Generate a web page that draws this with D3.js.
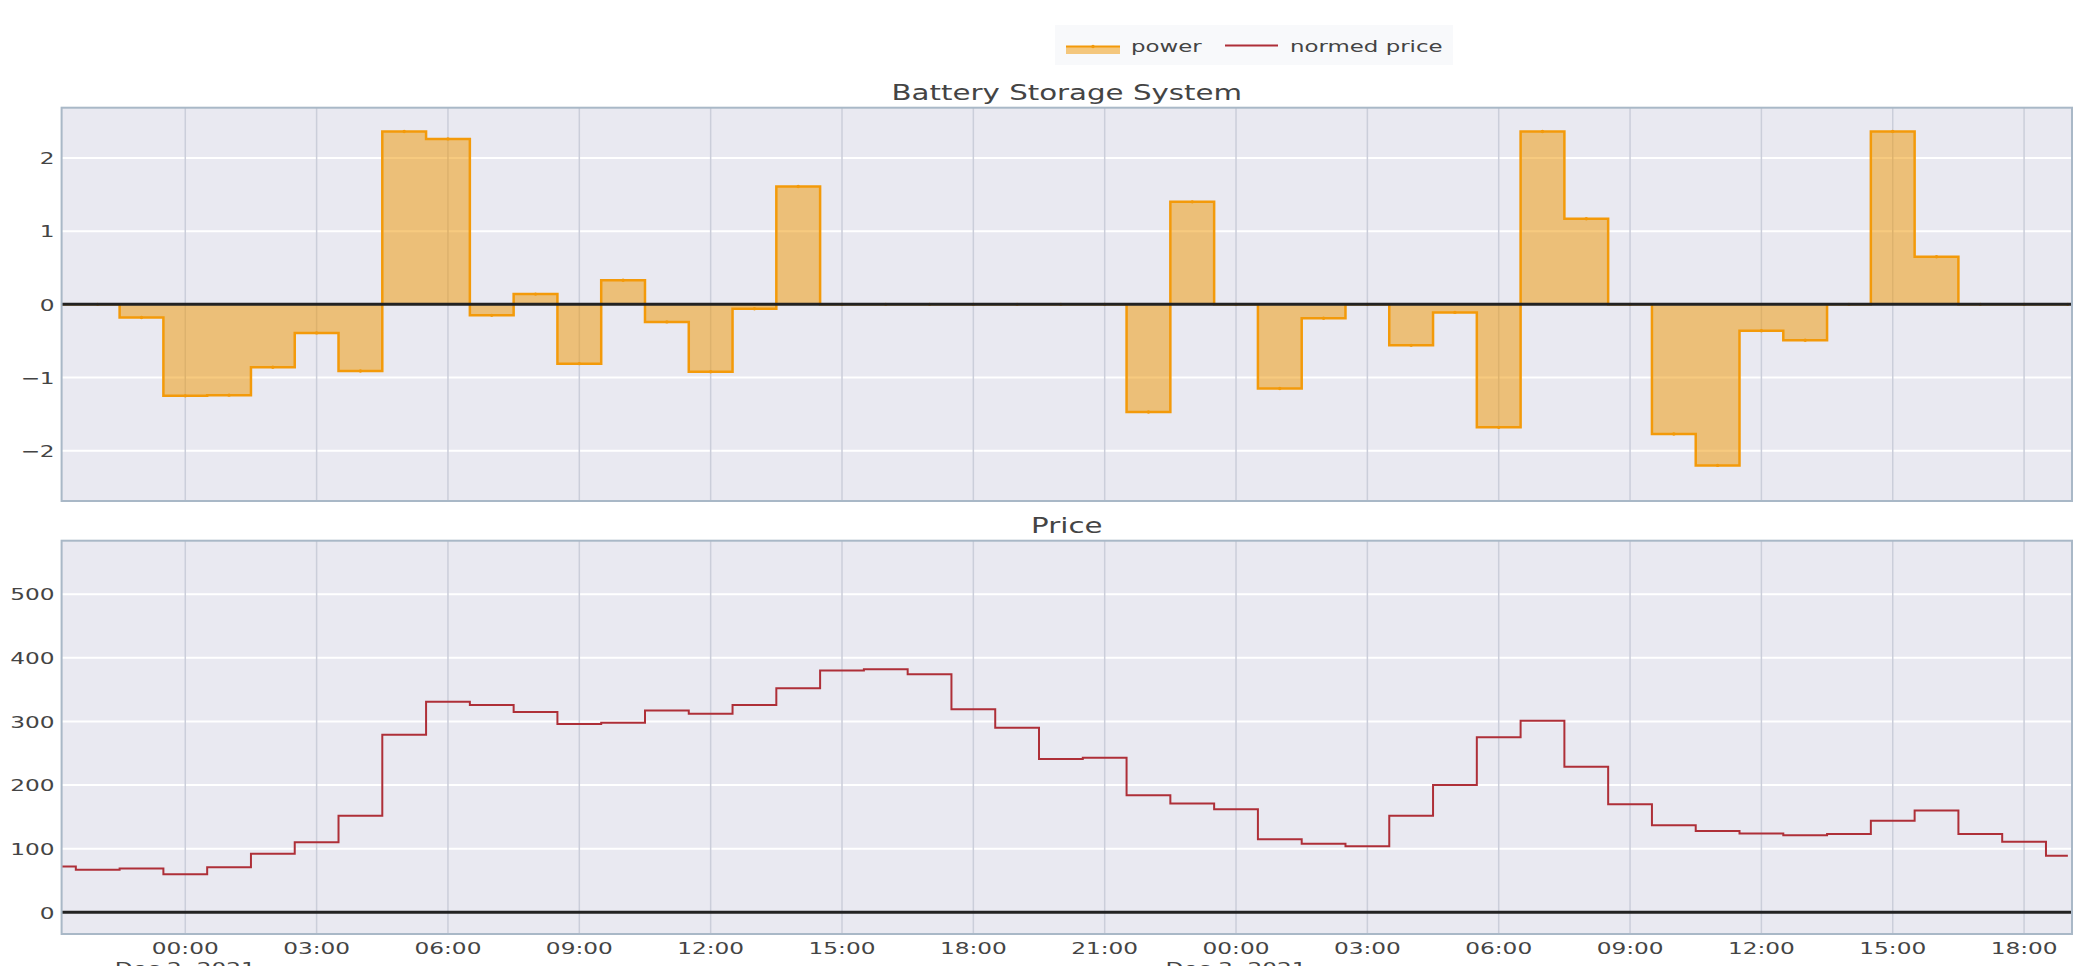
<!DOCTYPE html>
<html>
<head>
<meta charset="utf-8">
<script src="https://cdn.jsdelivr.net/npm/d3@7"></script>
<style>
  body { margin: 0; background: #fff; overflow: hidden; }
  text { font-family: "DejaVu Sans", Verdana, sans-serif; fill: #444; }
</style>
</head>
<body>
<svg></svg>
<script>
// hourly values, first one at 2021-12-01 21:00
const startHour = '2021-12-01 21:00'
const power = [
    0, 0, -0.18,
    -1.25, -1.24, -0.86, -0.39, -0.91, 2.36, 2.26, -0.15, 0.14, -0.81, 0.33, -0.24,
    -0.92, -0.06, 1.61, 0, 0, 0, 0, 0, 0, 0, -1.47, 1.40,
    0, -1.15, -0.19, 0, -0.56, -0.11, -1.68, 2.36, 1.17, 0, -1.77, -2.20,
    -0.36, -0.49, 0, 2.36, 0.65, 0, 0, 0
]
const price = [
    72, 67, 69,
    60, 71, 92, 110, 152, 279, 331, 326, 315, 296, 298, 317,
    312, 326, 352, 380, 382, 374, 319, 290, 241, 243, 184, 171,
    162, 115, 108, 104, 152, 200, 275, 301, 229, 170, 137, 128,
    124, 121, 123, 144, 160, 123, 111, 89
]
const seriesNames = ['power', 'normed price']
const panelTitles = ['Battery Storage System', 'Price']
const powerTicks = [-2, -1, 0, 1, 2]
const priceTicks = [0, 100, 200, 300, 400, 500]

const width = 2075
const height = 966
const plotLeft = 61.6
const plotRight = 2072
const panels = [
    {top: 107.7, bottom: 501, domain: [-2.686, 2.686], ticks: powerTicks},
    {top: 540.7, bottom: 934, domain: [-34, 584], ticks: priceTicks}
]

const powerColor = '#F39A0A'
const powerFill = 'rgba(240, 150, 0, 0.5)'
const priceColor = '#AE2F38'
const plotBg = '#E9E9F1'

const parseHour = d3.timeParse('%Y-%m-%d %H:%M')
const start = parseHour(startHour)
const times = power.map((d, i) => d3.timeHour.offset(start, i))

const svg = d3.select('svg')
    .attr('width', width)
    .attr('height', height)

const xScale = d3.scaleTime()
    .domain([new Date(2021, 11, 1, 21, 10, 30), new Date(2021, 11, 3, 19, 5, 40)])
    .range([plotLeft, plotRight])
const xTicks = xScale.ticks(d3.timeHour.every(3))

panels.forEach((p, i) => {
    p.y = d3.scaleLinear().domain(p.domain).range([p.bottom, p.top])
    svg.append('clipPath').attr('id', 'clip' + i)
        .append('rect')
        .attr('x', plotLeft).attr('y', p.top)
        .attr('width', plotRight - plotLeft).attr('height', p.bottom - p.top)
})

const drawFrame = (p, i) => {
    svg.append('rect')
        .attr('x', plotLeft).attr('y', p.top)
        .attr('width', plotRight - plotLeft).attr('height', p.bottom - p.top)
        .attr('fill', plotBg)
    const grid = svg.append('g').attr('clip-path', `url(#clip${i})`)
    grid.selectAll('.hgrid')
        .data(p.ticks.filter(t => t !== 0))
        .enter().append('line')
        .attr('x1', plotLeft).attr('x2', plotRight)
        .attr('y1', d => p.y(d)).attr('y2', d => p.y(d))
        .attr('stroke', '#fff').attr('stroke-width', 2)
    grid.selectAll('.vgrid')
        .data(xTicks)
        .enter().append('line')
        .attr('x1', d => xScale(d)).attr('x2', d => xScale(d))
        .attr('y1', p.top).attr('y2', p.bottom)
        .attr('stroke', '#CBCEDA').attr('stroke-width', 1.5)

    const yAxis = d3.axisLeft(p.y)
        .tickValues(p.ticks)
        .tickFormat(d3.format('d'))
        .tickSize(0)
        .tickPadding(7)
    svg.append('g')
        .attr('class', 'tick-text')
        .attr('transform', `translate(${plotLeft}, 0)`)
        .call(yAxis)
        .call(g => g.select('.domain').remove())
        .call(g => g.attr('font-family', null).attr('font-size', null))
        .selectAll('text')
        .attr('font-size', 16)
        .attr('fill', '#444')
        .attr('dy', '0.36em')
}

const drawZero = (p, i) => {
    svg.append('line')
        .attr('x1', plotLeft).attr('x2', plotRight)
        .attr('y1', p.y(0)).attr('y2', p.y(0))
        .attr('stroke', '#222').attr('stroke-width', 3)
    svg.append('rect')
        .attr('x', plotLeft).attr('y', p.top)
        .attr('width', plotRight - plotLeft).attr('height', p.bottom - p.top)
        .attr('fill', 'none')
        .attr('stroke', '#A9B8C7').attr('stroke-width', 2)
}

panels.forEach(drawFrame)

// power: filled steps to zero
const topPanel = panels[0]
const powerLayer = svg.append('g').attr('clip-path', 'url(#clip0)')
powerLayer.append('path')
    .datum(power)
    .attr('fill', powerFill)
    .attr('d', d3.area()
        .curve(d3.curveStep)
        .x((d, i) => xScale(times[i]))
        .y0(topPanel.y(0))
        .y1(d => topPanel.y(d)))
powerLayer.append('path')
    .datum(power)
    .attr('fill', 'none')
    .attr('stroke', powerColor)
    .attr('stroke-width', 2.5)
    .attr('d', d3.line()
        .curve(d3.curveStep)
        .x((d, i) => xScale(times[i]))
        .y(d => topPanel.y(d)))
powerLayer.selectAll('.dot')
    .data(power)
    .enter().append('circle')
    .attr('cx', (d, i) => xScale(times[i]))
    .attr('cy', d => topPanel.y(d))
    .attr('r', 1.7)
    .attr('fill', powerColor)

// price steps
const bottomPanel = panels[1]
svg.append('g').attr('clip-path', 'url(#clip1)')
    .append('path')
    .datum(price)
    .attr('fill', 'none')
    .attr('stroke', priceColor)
    .attr('stroke-width', 2)
    .attr('d', d3.line()
        .curve(d3.curveStep)
        .x((d, i) => xScale(times[i]))
        .y(d => bottomPanel.y(d)))

panels.forEach(drawZero)

// x tick labels under the lower panel, with the date below midnight
const xLabels = svg.append('g')
xLabels.selectAll('.xt')
    .data(xTicks)
    .enter().append('text')
    .attr('class', 'tick-text')
    .attr('x', d => xScale(d))
    .attr('y', bottomPanel.bottom + 20)
    .attr('text-anchor', 'middle')
    .attr('font-size', 16)
    .text(d3.timeFormat('%H:%M'))
xLabels.selectAll('.xd')
    .data(xTicks.filter(d => d.getHours() === 0))
    .enter().append('text')
    .attr('class', 'tick-text')
    .attr('x', d => xScale(d))
    .attr('y', bottomPanel.bottom + 40)
    .attr('text-anchor', 'middle')
    .attr('font-size', 16)
    .text(d3.timeFormat('%b %-d, %Y'))

// subplot titles
svg.selectAll('.ptitle')
    .data(panelTitles)
    .enter().append('text')
    .attr('class', 'ptitle')
    .attr('x', (plotLeft + plotRight) / 2)
    .attr('y', (d, i) => panels[i].top - 8)
    .attr('text-anchor', 'middle')
    .attr('font-size', 22)
    .text(d => d)

// legend
const legend = svg.append('g')
legend.append('rect')
    .attr('x', 1055).attr('y', 25)
    .attr('width', 398).attr('height', 40)
    .attr('fill', '#F8F9FB')
legend.append('rect')
    .attr('x', 1066).attr('y', 46)
    .attr('width', 54).attr('height', 8)
    .attr('fill', powerFill)
legend.append('line')
    .attr('x1', 1066).attr('x2', 1120)
    .attr('y1', 46.5).attr('y2', 46.5)
    .attr('stroke', powerColor).attr('stroke-width', 2)
legend.append('circle')
    .attr('cx', 1093).attr('cy', 46.5).attr('r', 1.7)
    .attr('fill', powerColor)
legend.append('line')
    .attr('x1', 1225).attr('x2', 1278)
    .attr('y1', 45.5).attr('y2', 45.5)
    .attr('stroke', priceColor).attr('stroke-width', 2)
legend.selectAll('.ltext')
    .data(seriesNames)
    .enter().append('text')
    .attr('class', 'ltext')
    .attr('x', (d, i) => i === 0 ? 1131 : 1290)
    .attr('y', 51.5)
    .attr('font-size', 16)
    .text(d => d)

// the picture is wider than it is tall, so widen the glyphs
const stretchText = (sel, k) => sel.each(function() {
    const w = this.getComputedTextLength()
    d3.select(this)
        .attr('textLength', w * k)
        .attr('lengthAdjust', 'spacingAndGlyphs')
})
stretchText(svg.selectAll('.tick-text text, text.tick-text'), 1.45)
stretchText(svg.selectAll('.ptitle'), 1.33)
stretchText(svg.selectAll('.ltext'), 1.43)
</script>
</body>
</html>
